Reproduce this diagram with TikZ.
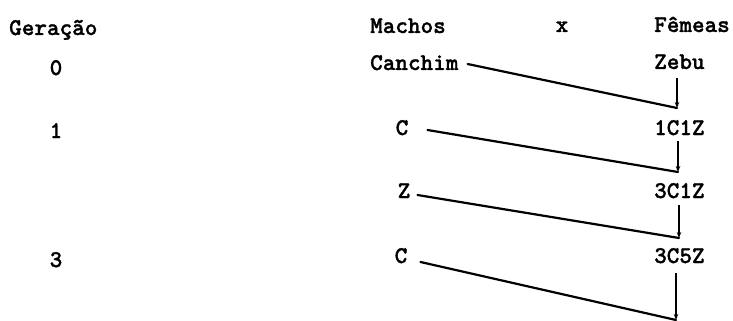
\documentclass[tikz,border=0pt]{standalone}
\usepackage{fontspec}
\newfontfamily\twfont[FakeBold=1.2]{lmmonolt10-bold.otf}
\usetikzlibrary{arrows.meta,calc}
\tikzset{
  lbl/.style={inner sep=0pt, font=\fontsize{24}{28}\selectfont\twfont, anchor=base west},
  num/.style={lbl, anchor=base},
  cross/.style={line width=2.2pt, line cap=round},
  down/.style={line width=1.3pt, -{Stealth[length=6pt,width=4.5pt]}}
}
\begin{document}
\begin{tikzpicture}[x=1pt,y=1pt]
\useasboundingbox (0,0) rectangle (733,-321);
% header
\node[lbl] (ger) at (9,-35) {Geração};
\node[lbl] (mach) at (370,-33) {Machos};
\node[num] (xx) at (562,-32) {x};
\node[lbl] (fem) at (654,-32) {Fêmeas};
% generations
\node[num] (g0) at (56,-75) {0};
\node[num] (g1) at (56,-138) {1};
\node[num] (g3) at (56,-267) {3};
% males
\node[lbl] (canchim) at (370,-70) {Canchim};
\node[num] (m1) at (402,-135) {C};
\node[num] (m2) at (404,-198) {Z};
\node[num] (m3) at (401,-263) {C};
% females
\node[lbl] (zebu) at (654,-69) {Zebu};
\node[lbl] (f1) at (654,-135) {1C1Z};
\node[lbl] (f2) at (654,-198) {3C1Z};
\node[lbl] (f3) at (654,-263) {3C5Z};
% junctions
\coordinate (j0) at (677,-108);
\coordinate (j1) at (678,-172);
\coordinate (j2) at (679,-238);
\coordinate (j3) at (676,-320);
% crossing lines
\draw[cross] ($(canchim.base east)+(9,6)$) -- (j0);
\draw[cross] ($(m1.base east)+(19,5)$) -- (j1);
\draw[cross] ($(m2.base east)+(7,3)$) -- (j2);
\draw[cross] ($(m3.base east)+(13,1)$) -- (j3);
% vertical arrows
\draw[down] ($(j0 |- zebu.base)+(0,-9)$) -- (j0);
\draw[down] ($(j1 |- f1.base)+(0,-6)$) -- (j1);
\draw[down] ($(j2 |- f2.base)+(0,-7)$) -- (j2);
\draw[down] ($(j3 |- f3.base)+(0,-10)$) -- (j3);
\end{tikzpicture}
\end{document}
